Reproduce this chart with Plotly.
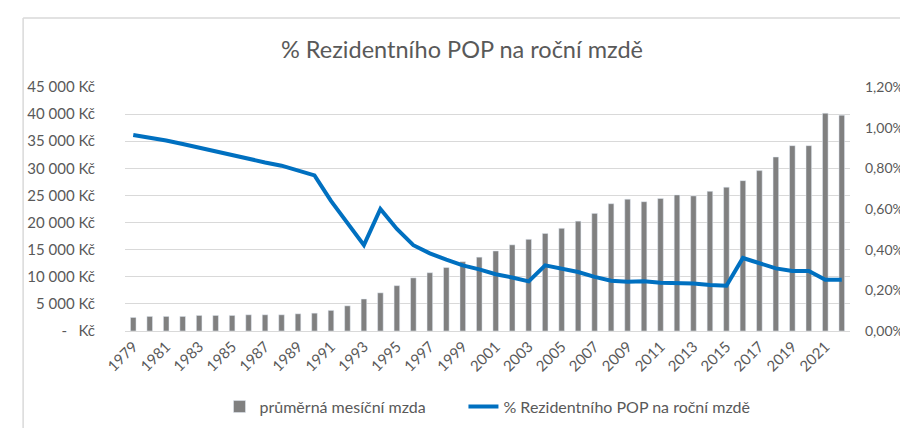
import plotly.graph_objects as go

years = [str(y) for y in range(1979, 2023)]
wage = [2500, 2690, 2690, 2690, 2870, 2870, 2870, 2990, 2990, 2990, 3170, 3290,
        3800, 4640, 5900, 7040, 8360, 9800, 10750, 11710, 12780, 13620, 14760,
        15890, 16910, 17990, 18940, 20260, 21690, 23480, 24320, 23850, 24440,
        25100, 24920, 25760, 26530, 27730, 29580, 32090, 34180, 34180, 40160, 39800]
pct = [0.964, 0.951, 0.937, 0.920, 0.902, 0.884, 0.861, 0.846, 0.829, 0.813, 0.789, 0.765,
       0.64, 0.53, 0.422, 0.600, 0.502, 0.422, 0.382, 0.351, 0.323, 0.303, 0.279,
       0.263, 0.244, 0.323, 0.308, 0.290, 0.266, 0.247, 0.242, 0.245, 0.237,
       0.234, 0.234, 0.226, 0.223, 0.359, 0.335, 0.308, 0.295, 0.295, 0.252, 0.252]
pct = [p / 100 for p in pct]

left_vals = list(range(0, 45001, 5000))
left_text = ["-\u00a0\u00a0\u00a0Kč"] + [f"{v:,}".replace(",", "\u00a0") + "\u00a0Kč" for v in left_vals[1:]]
right_vals = [i * 0.002 for i in range(7)]
right_text = [f"{v*100:.2f}".replace(".", ",") + "%" for v in right_vals]
xtick_vals = years[::2]

font = "Lato, 'Open Sans', sans-serif"
grey = "#595959"

fig = go.Figure()
fig.add_trace(go.Bar(x=years, y=wage, name="průměrná mesíční mzda" + "\u00a0" * 8,
                     marker_color="#808080", yaxis="y"))
fig.add_trace(go.Scatter(x=years, y=pct, name="% Rezidentního POP na roční mzdě",
                         mode="lines", line=dict(color="#0070C0", width=4),
                         yaxis="y2"))

fig.update_layout(
    width=908, height=428,
    margin=dict(l=117, r=58, t=79, b=98),
    paper_bgcolor="white", plot_bgcolor="white",
    font=dict(family=font, size=15, color=grey),
    title=dict(text="% Rezidentního POP na roční mzdě", x=0.5, xanchor="center",
               y=1 - 42 / 428, yanchor="middle",
               font=dict(size=23.5, color=grey, family=font)),
    bargap=0.66,
    showlegend=True,
    legend=dict(orientation="h", x=0.5, xanchor="center", y=-0.31, yanchor="middle",
                font=dict(size=16, color=grey), itemwidth=30),
    xaxis=dict(type="category", tickmode="array", tickvals=xtick_vals,
               tickangle=-45, showgrid=False, showline=True, linecolor="#d9d9d9",
               linewidth=1, ticks="", tickfont=dict(size=15, color=grey)),
    yaxis=dict(range=[0, 45000], tickmode="array", tickvals=left_vals, ticktext=left_text,
               showgrid=True, gridcolor="#d9d9d9", gridwidth=1, zeroline=False,
               showline=False, ticks="", ticklabelstandoff=29,
               tickfont=dict(size=15, color=grey)),
    yaxis2=dict(range=[0, 0.012], overlaying="y", side="right", tickmode="array",
                tickvals=right_vals, ticktext=right_text, showgrid=False,
                zeroline=False, showline=False, ticks="", ticklabelstandoff=14,
                tickfont=dict(size=14, color=grey)),
)

# chart frame (left and top edges visible)
fig.add_shape(type="line", xref="paper", yref="paper",
              x0=(14 - 117) / 733, x1=(14 - 117) / 733,
              y0=(330 - 440) / 251, y1=(330 - 8) / 251,
              line=dict(color="#d9d9d9", width=1.5))
fig.add_shape(type="line", xref="paper", yref="paper",
              x0=(14 - 117) / 733, x1=(920 - 117) / 733,
              y0=(330 - 8) / 251, y1=(330 - 8) / 251,
              line=dict(color="#d9d9d9", width=1.5))

fig.write_html("out.html")
